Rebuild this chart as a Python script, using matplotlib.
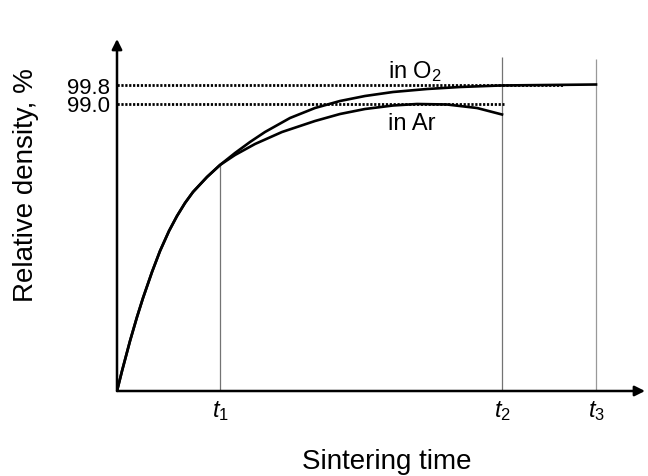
import matplotlib

matplotlib.use("Agg")

import matplotlib.pyplot as plt

plt.rcParams["font.family"] = ["Liberation Sans", "DejaVu Sans"]
plt.rcParams["mathtext.fontset"] = "custom"
plt.rcParams["mathtext.rm"] = "Liberation Sans"
plt.rcParams["mathtext.it"] = "Liberation Sans:italic"

# schematic units (time and density are not to scale in the original)
rise_t = [0, 5, 13, 20, 26, 35, 43, 52, 60, 68, 76, 90, 103]
rise_d = [0, 20, 50, 74, 93, 119, 140, 160, 175, 188, 199, 214, 226]

time_o2 = rise_t + [118, 133, 148, 173, 198, 223, 248, 276, 310, 343, 383, 479]
dens_o2 = rise_d + [238, 249, 259, 273, 283, 290, 295, 299, 302, 304, 305.5, 306.5]
time_ar = rise_t + [118, 138, 165, 198, 223, 248, 276, 300, 330, 360, 385]
dens_ar = rise_d + [236, 247, 259, 270, 277, 282, 285.5, 287, 286.5, 283, 276.5]

level_values = [306.5, 287.5]
level_labels = ["99.8", "99.0"]
level_ends = [446, 387]

t_marks = [103, 385, 479]
t_labels = [r"$\mathit{t_1}$", r"$\mathit{t_2}$", r"$\mathit{t_3}$"]
t_tops = [226, 334, 332]
t_colors = ["0.45", "0.45", "0.6"]

fig = plt.figure(figsize=(6.48, 4.77), dpi=100)
ax = fig.add_axes([117 / 648, 85 / 477, 528 / 648, 352 / 477])
ax.set_xlim(0, 528)
ax.set_ylim(0, 352)
for side in ["top", "right", "left", "bottom"]:
    ax.spines[side].set_visible(False)

# axes with arrow heads
arrow = dict(arrowstyle="-|>", color="black", lw=1.8,
             mutation_scale=15, shrinkA=0, shrinkB=0)
ax.annotate("", xy=(528, 0), xytext=(0, 0), arrowprops=arrow,
            annotation_clip=False)
ax.annotate("", xy=(0, 352), xytext=(0, 0), arrowprops=arrow,
            annotation_clip=False)

# guide lines
for xv, top, col in zip(t_marks, t_tops, t_colors):
    ax.vlines(xv, 0, top, color=col, lw=0.9)
for yv, xe in zip(level_values, level_ends):
    ax.hlines(yv, 0, xe, color="black", lw=2.0, linestyles=(0, (0.8, 0.6)))

ax.plot(time_o2, dens_o2, color="black", lw=1.9, solid_joinstyle="round")
ax.plot(time_ar, dens_ar, color="black", lw=1.9, solid_joinstyle="round")

ax.text(298, 320, r"in O$_2$", fontsize=17, ha="center", va="center")
ax.text(295, 268, "in Ar", fontsize=17, ha="center", va="center")

ax.set_xticks(t_marks)
ax.set_xticklabels(t_labels, fontsize=17)
ax.set_yticks(level_values)
ax.set_yticklabels(level_labels, fontsize=16)
ax.tick_params(axis="y", length=0, pad=5)
ax.tick_params(axis="x", length=0, pad=5)

fig.text(387 / 648, 1 - 462 / 477, "Sintering time", fontsize=20,
         ha="center", va="center")
fig.text(26 / 648, 1 - 185 / 477, "Relative density, %", fontsize=20,
         ha="center", va="center", rotation=90)

fig.savefig("out.png", dpi=100)
plt.close(fig)
